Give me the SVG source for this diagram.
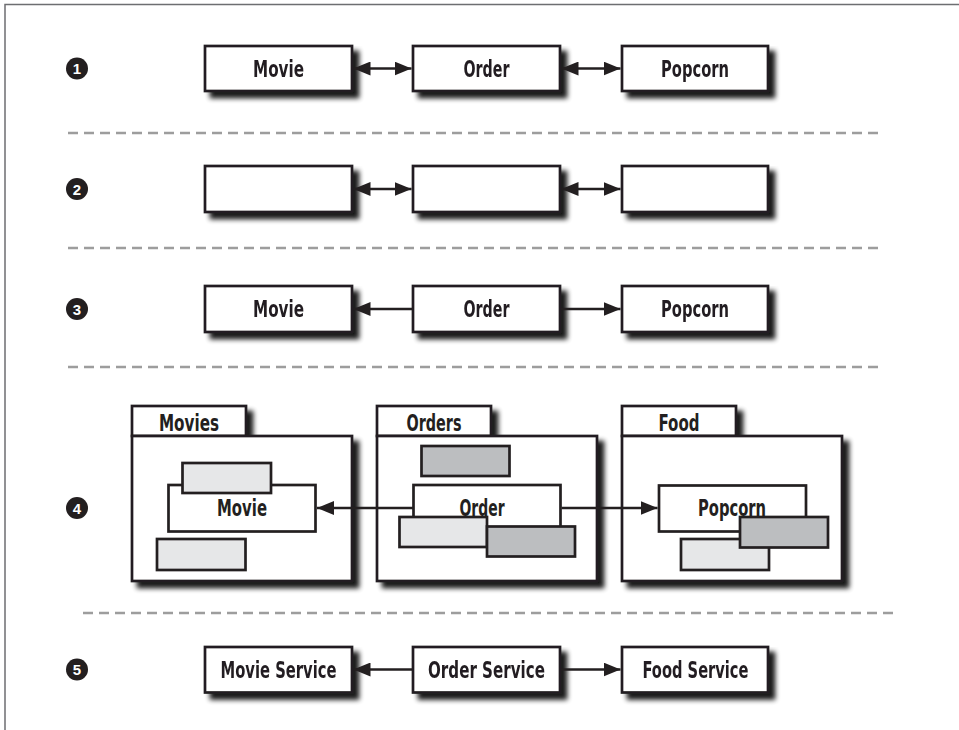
<svg xmlns="http://www.w3.org/2000/svg" width="959" height="730" viewBox="0 0 959 730">
  <style>
    .box { fill: #ffffff; stroke: #231f20; stroke-width: 2.7; }
    .lite { fill: #e6e7e8; stroke: #231f20; stroke-width: 2.7; }
    .dark { fill: #bcbec0; stroke: #231f20; stroke-width: 2.7; }
    .lbl { font-family: "Liberation Sans Narrow", "DejaVu Sans Condensed", "Liberation Sans", sans-serif; font-weight: bold; font-size: 23px; fill: #231f20; text-anchor: middle; }
    .num { font-family: "Liberation Sans", "DejaVu Sans", sans-serif; font-weight: bold; font-size: 15px; fill: #ffffff; text-anchor: middle; }
    .sep { stroke: #9d9d9d; stroke-width: 2.5; stroke-dasharray: 10 6; fill: none; }
    .edge { stroke: #231f20; stroke-width: 2.7; fill: none; }
    .frame { stroke: #6d6e71; stroke-width: 1.5; fill: none; }
  </style>
  <defs>
    <filter id="shadow" x="-10%" y="-10%" width="130%" height="140%">
      <feGaussianBlur in="SourceAlpha" stdDeviation="2.4" result="b"/>
      <feOffset in="b" dx="5.5" dy="5.5" result="o"/>
      <feComponentTransfer in="o" result="s">
        <feFuncA type="linear" slope="0.9"/>
      </feComponentTransfer>
      <feMerge>
        <feMergeNode in="s"/>
        <feMergeNode in="SourceGraphic"/>
      </feMerge>
    </filter>
    <marker id="head" viewBox="0 0 17 14" markerWidth="17" markerHeight="14" refX="17" refY="7" markerUnits="userSpaceOnUse" orient="auto-start-reverse">
      <path d="M0,0 L17,7 L0,14 Z" fill="#231f20"/>
    </marker>
  </defs>

  <!-- frame edges -->
  <path class="frame" d="M5,730 V4.5 H959"/>

  <!-- separators between the five variants -->
  <g id="separators">
    <line class="sep" x1="68" y1="133" x2="882" y2="133"/>
    <line class="sep" x1="68" y1="248" x2="882" y2="248"/>
    <line class="sep" x1="68" y1="367" x2="882" y2="367"/>
    <line class="sep" x1="83" y1="613" x2="897" y2="613"/>
  </g>

  <!-- step markers -->
  <g id="step-markers">
    <g id="step1"><circle cx="77" cy="68.5" r="11" fill="#231f20"/><text class="num" x="77" y="74">1</text></g>
    <g id="step2"><circle cx="77" cy="189" r="11" fill="#231f20"/><text class="num" x="77" y="194.5">2</text></g>
    <g id="step3"><circle cx="77" cy="309" r="11" fill="#231f20"/><text class="num" x="77" y="314.5">3</text></g>
    <g id="step4"><circle cx="77" cy="508" r="11" fill="#231f20"/><text class="num" x="77" y="513.5">4</text></g>
    <g id="step5"><circle cx="77" cy="669.5" r="11" fill="#231f20"/><text class="num" x="77" y="675">5</text></g>
  </g>

  <!-- row 1 -->
  <g id="r1-movie" filter="url(#shadow)"><rect class="box" x="205" y="46" width="147" height="45"/><text class="lbl" x="278.5" y="76.5" textLength="51" lengthAdjust="spacingAndGlyphs">Movie</text></g>
  <g id="r1-order" filter="url(#shadow)"><rect class="box" x="413" y="46" width="147" height="45"/><text class="lbl" x="486.5" y="76.5" textLength="46" lengthAdjust="spacingAndGlyphs">Order</text></g>
  <g id="r1-popcorn" filter="url(#shadow)"><rect class="box" x="622" y="46" width="146" height="45"/><text class="lbl" x="695" y="76.5" textLength="68" lengthAdjust="spacingAndGlyphs">Popcorn</text></g>

  <!-- row 2 -->
  <g id="r2-a" filter="url(#shadow)"><rect class="box" x="205" y="166" width="147" height="46"/></g>
  <g id="r2-b" filter="url(#shadow)"><rect class="box" x="413" y="166" width="147" height="46"/></g>
  <g id="r2-c" filter="url(#shadow)"><rect class="box" x="622" y="166" width="146" height="46"/></g>

  <!-- row 3 -->
  <g id="r3-movie" filter="url(#shadow)"><rect class="box" x="205" y="286" width="147" height="46"/><text class="lbl" x="278.5" y="317" textLength="51" lengthAdjust="spacingAndGlyphs">Movie</text></g>
  <g id="r3-order" filter="url(#shadow)"><rect class="box" x="413" y="286" width="147" height="46"/><text class="lbl" x="486.5" y="317" textLength="46" lengthAdjust="spacingAndGlyphs">Order</text></g>
  <g id="r3-popcorn" filter="url(#shadow)"><rect class="box" x="622" y="286" width="146" height="46"/><text class="lbl" x="695" y="317" textLength="68" lengthAdjust="spacingAndGlyphs">Popcorn</text></g>

  <!-- row 4: packages -->
  <g id="pkg-movies">
    <g filter="url(#shadow)">
      <rect class="box" x="132" y="406" width="114" height="30"/>
      <rect class="box" x="132" y="436" width="220" height="145"/>
    </g>
    <text class="lbl" x="189" y="430.5" textLength="60" lengthAdjust="spacingAndGlyphs">Movies</text>
    <g id="movie-entity">
      <rect class="box" x="168.5" y="485" width="147" height="46.5"/>
      <rect class="lite" x="182.5" y="463" width="88.5" height="30"/>
      <text class="lbl" x="242" y="516" textLength="50" lengthAdjust="spacingAndGlyphs">Movie</text>
    </g>
    <rect class="lite" x="157" y="539" width="88.5" height="31"/>
  </g>

  <g id="pkg-orders">
    <g filter="url(#shadow)">
      <rect class="box" x="377" y="406" width="114" height="30"/>
      <rect class="box" x="377" y="436" width="220" height="145"/>
    </g>
    <text class="lbl" x="434" y="430.5" textLength="55" lengthAdjust="spacingAndGlyphs">Orders</text>
    <rect class="dark" x="421.5" y="446" width="88" height="30"/>
    <g id="order-entity">
      <rect class="box" x="413.5" y="485" width="147" height="46.5"/>
      <text class="lbl" x="482" y="516" textLength="45" lengthAdjust="spacingAndGlyphs">Order</text>
    </g>
    <rect class="lite" x="399.5" y="517" width="87.5" height="30"/>
    <rect class="dark" x="487" y="526.5" width="88" height="30"/>
  </g>

  <g id="pkg-food">
    <g filter="url(#shadow)">
      <rect class="box" x="622" y="406" width="114" height="30"/>
      <rect class="box" x="622" y="436" width="220" height="145"/>
    </g>
    <text class="lbl" x="679" y="430.5" textLength="41" lengthAdjust="spacingAndGlyphs">Food</text>
    <g id="popcorn-entity">
      <rect class="box" x="659" y="485.5" width="147" height="46"/>
      <text class="lbl" x="732" y="516" textLength="68" lengthAdjust="spacingAndGlyphs">Popcorn</text>
    </g>
    <rect class="lite" x="681" y="539" width="88" height="31"/>
    <rect class="dark" x="740" y="517" width="88" height="30.5"/>
  </g>

  <!-- row 5 -->
  <g id="r5-movie-service" filter="url(#shadow)"><rect class="box" x="205" y="647" width="147" height="45.5"/><text class="lbl" x="278.5" y="677.5" textLength="116" lengthAdjust="spacingAndGlyphs">Movie Service</text></g>
  <g id="r5-order-service" filter="url(#shadow)"><rect class="box" x="413" y="647" width="147" height="45.5"/><text class="lbl" x="486.5" y="677.5" textLength="117" lengthAdjust="spacingAndGlyphs">Order Service</text></g>
  <g id="r5-food-service" filter="url(#shadow)"><rect class="box" x="622" y="647" width="146" height="45.5"/><text class="lbl" x="695.5" y="677.5" textLength="106" lengthAdjust="spacingAndGlyphs">Food Service</text></g>

  <!-- connectors -->
  <g id="connectors">
    <line class="edge" x1="353.5" y1="68.5" x2="411.5" y2="68.5" marker-start="url(#head)" marker-end="url(#head)"/>
    <line class="edge" x1="561.5" y1="68.5" x2="620.5" y2="68.5" marker-start="url(#head)" marker-end="url(#head)"/>
    <line class="edge" x1="353.5" y1="189" x2="411.5" y2="189" marker-start="url(#head)" marker-end="url(#head)"/>
    <line class="edge" x1="561.5" y1="189" x2="620.5" y2="189" marker-start="url(#head)" marker-end="url(#head)"/>
    <line class="edge" x1="412" y1="309" x2="353.5" y2="309" marker-end="url(#head)"/>
    <line class="edge" x1="561" y1="309" x2="620.5" y2="309" marker-end="url(#head)"/>
    <line class="edge" x1="413" y1="508" x2="317" y2="508" marker-end="url(#head)"/>
    <line class="edge" x1="561.5" y1="508" x2="657.5" y2="508" marker-end="url(#head)"/>
    <line class="edge" x1="412" y1="669.5" x2="353.5" y2="669.5" marker-end="url(#head)"/>
    <line class="edge" x1="561" y1="669.5" x2="620.5" y2="669.5" marker-end="url(#head)"/>
  </g>
</svg>
